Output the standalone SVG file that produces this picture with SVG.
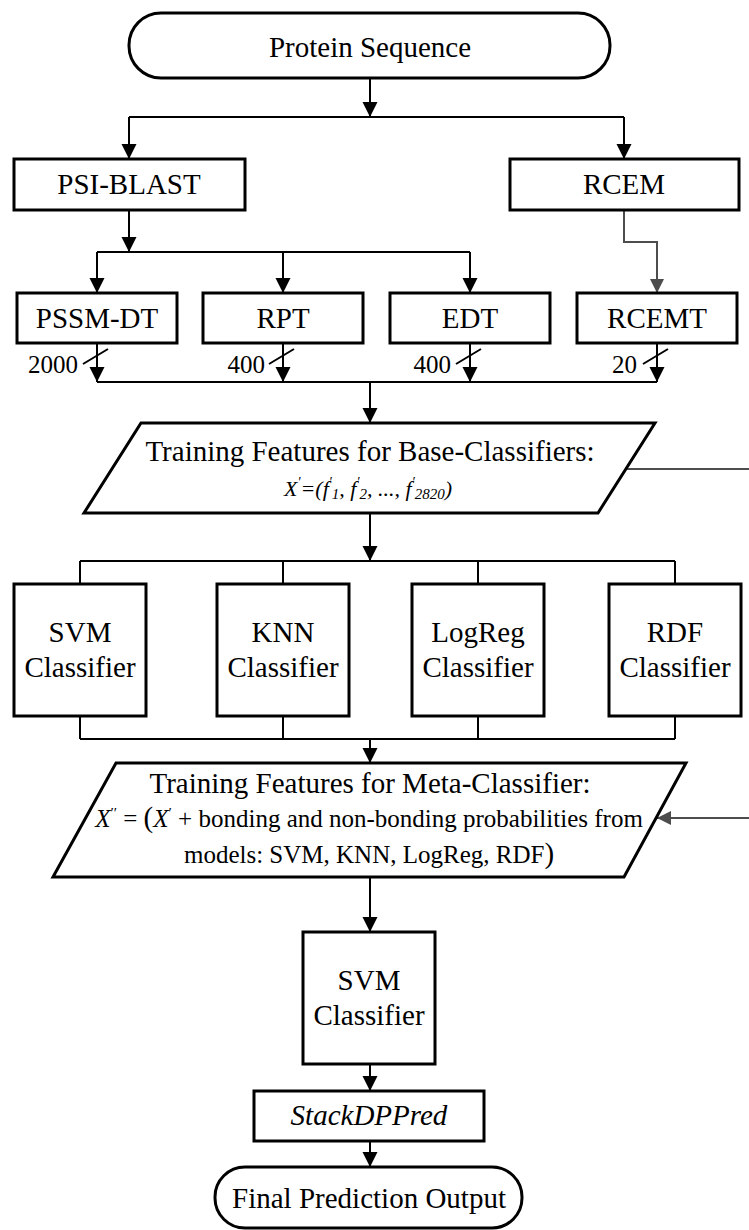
<svg xmlns="http://www.w3.org/2000/svg" width="749" height="1230" viewBox="0 0 749 1230">
<style>
.box{fill:#fff;stroke:#000;stroke-width:3}
.ln{fill:none;stroke:#000;stroke-width:2}
.gr{fill:none;stroke:#4d4d4d;stroke-width:2}
.t{font-family:'Liberation Serif','Times New Roman',serif;font-size:29px;text-anchor:middle;fill:#000}
.s{font-size:25px}
.n{font-family:'Liberation Serif','Times New Roman',serif;font-size:25px;text-anchor:end;fill:#000}
.i{font-style:italic}
</style>
<defs>
<marker id="ah" markerUnits="userSpaceOnUse" markerWidth="16" markerHeight="16" refX="15" refY="7.5" orient="auto"><path d="M0,0 L15,7.5 L0,15 z" fill="#000"/></marker>
<marker id="ahg" markerUnits="userSpaceOnUse" markerWidth="16" markerHeight="16" refX="14" refY="7" orient="auto"><path d="M0,0 L14,7 L0,14 z" fill="#4d4d4d"/></marker>
</defs>
<g id="connectors">
<path class="ln" d="M370,78 V117" marker-end="url(#ah)"/>
<path class="ln" d="M129,117 H624"/>
<path class="ln" d="M129,117 V159" marker-end="url(#ah)"/>
<path class="ln" d="M624,117 V159" marker-end="url(#ah)"/>
<path class="ln" d="M129,210 V252" marker-end="url(#ah)"/>
<path class="ln" d="M97,252 H470"/>
<path class="ln" d="M97,252 V293" marker-end="url(#ah)"/>
<path class="ln" d="M283,252 V293" marker-end="url(#ah)"/>
<path class="ln" d="M470,252 V293" marker-end="url(#ah)"/>
<path class="gr" d="M624,210 V242 H657 V293" marker-end="url(#ahg)"/>
<path class="ln" d="M97,343 V382" marker-end="url(#ah)"/>
<path class="ln" d="M283,343 V382" marker-end="url(#ah)"/>
<path class="ln" d="M470,343 V382" marker-end="url(#ah)"/>
<path class="ln" d="M657,343 V382" marker-end="url(#ah)"/>
<path class="ln" d="M97,382 H657"/>
<path class="ln" d="M83,364 L108,349 M269,364 L294,349 M456,364 L481,349 M643,364 L668,349"/>
<path class="ln" d="M370,382 V423" marker-end="url(#ah)"/>
<path class="ln" d="M370,513 V561" marker-end="url(#ah)"/>
<path class="ln" d="M80,561 H675 M80,561 V584 M283,561 V584 M478,561 V584 M675,561 V584"/>
<path class="ln" d="M80,716 V739 M283,716 V739 M478,716 V739 M675,716 V739 M80,739 H675"/>
<path class="ln" d="M370,739 V763" marker-end="url(#ah)"/>
<path class="gr" d="M627,469 H760 V818 H657" marker-end="url(#ahg)"/>
<path class="ln" d="M370,877 V932" marker-end="url(#ah)"/>
<path class="ln" d="M370,1064 V1091" marker-end="url(#ah)"/>
<path class="ln" d="M370,1141 V1167" marker-end="url(#ah)"/>
<text class="n" x="78" y="373">2000</text>
<text class="n" x="265" y="373">400</text>
<text class="n" x="451" y="373">400</text>
<text class="n" x="637" y="373">20</text>
</g>
<g id="protein-sequence">
<rect class="box" x="129" y="13" width="481" height="65" rx="32" ry="32"/>
<text class="t" x="370" y="57">Protein Sequence</text>
</g>
<g id="psi-blast">
<rect class="box" x="14" y="159" width="231" height="51"/>
<text class="t" x="129" y="194">PSI-BLAST</text>
</g>
<g id="rcem">
<rect class="box" x="510" y="159" width="229" height="51"/>
<text class="t" x="624" y="194">RCEM</text>
</g>
<g id="pssm-dt">
<rect class="box" x="17" y="293" width="160" height="50"/>
<text class="t" x="97" y="328">PSSM-DT</text>
</g>
<g id="rpt">
<rect class="box" x="203" y="293" width="160" height="50"/>
<text class="t" x="283" y="328">RPT</text>
</g>
<g id="edt">
<rect class="box" x="390" y="293" width="160" height="50"/>
<text class="t" x="470" y="328">EDT</text>
</g>
<g id="rcemt">
<rect class="box" x="577" y="293" width="160" height="50"/>
<text class="t" x="657" y="328">RCEMT</text>
</g>
<g id="base-features">
<polygon class="box" points="141,423 655,423 598,513 84,513"/>
<text class="t" x="370" y="461">Training Features for Base-Classifiers:</text>
<text class="t i" x="368" y="496" style="font-size:22px">X<tspan dy="-9" font-size="14">′</tspan><tspan dy="9">=(f</tspan><tspan dy="-9" font-size="14">′</tspan><tspan dy="12" font-size="15">1</tspan><tspan dy="-3">, f</tspan><tspan dy="-9" font-size="14">′</tspan><tspan dy="12" font-size="15">2</tspan><tspan dy="-3">, ..., f</tspan><tspan dy="-9" font-size="14">′</tspan><tspan dy="12" font-size="15">2820</tspan><tspan dy="-3">)</tspan></text>
</g>
<g id="svm-classifier">
<rect class="box" x="14" y="584" width="132" height="132"/>
<text class="t" x="80" y="642">SVM</text>
<text class="t" x="80" y="677">Classifier</text>
</g>
<g id="knn-classifier">
<rect class="box" x="217" y="584" width="132" height="132"/>
<text class="t" x="283" y="642">KNN</text>
<text class="t" x="283" y="677">Classifier</text>
</g>
<g id="logreg-classifier">
<rect class="box" x="412" y="584" width="132" height="132"/>
<text class="t" x="478" y="642">LogReg</text>
<text class="t" x="478" y="677">Classifier</text>
</g>
<g id="rdf-classifier">
<rect class="box" x="609" y="584" width="132" height="132"/>
<text class="t" x="675" y="642">RDF</text>
<text class="t" x="675" y="677">Classifier</text>
</g>
<g id="meta-features">
<polygon class="box" points="116,763 686,763 624,877 53,877"/>
<text class="t" x="370" y="793">Training Features for Meta-Classifier:</text>
<text class="t s" x="369" y="827"><tspan class="i">X</tspan><tspan dy="-9" font-size="15">′′</tspan><tspan dy="9"> = </tspan><tspan font-size="29">(</tspan><tspan class="i">X</tspan><tspan dy="-9" font-size="15">′</tspan><tspan dy="9"> + bonding and non-bonding probabilities from</tspan></text>
<text class="t s" x="369" y="863">models: SVM, KNN, LogReg, RDF<tspan font-size="29">)</tspan></text>
</g>
<g id="meta-svm">
<rect class="box" x="303" y="932" width="132" height="132"/>
<text class="t" x="369" y="990">SVM</text>
<text class="t" x="369" y="1025">Classifier</text>
</g>
<g id="stackdppred">
<rect class="box" x="254" y="1091" width="230" height="50"/>
<text class="t i" x="369" y="1125">StackDPPred</text>
</g>
<g id="final-output">
<rect class="box" x="215" y="1167" width="307" height="61" rx="30" ry="30"/>
<text class="t" x="369" y="1208">Final Prediction Output</text>
</g>
</svg>
